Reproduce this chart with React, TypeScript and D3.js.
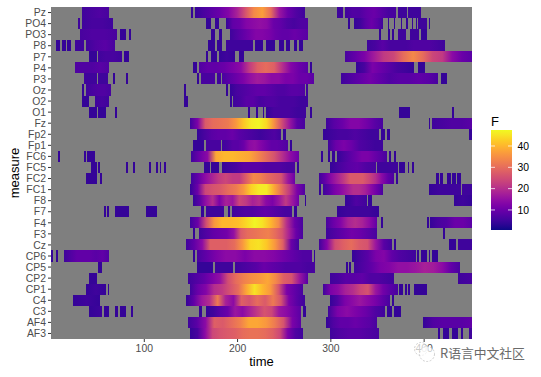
import React from "react";
import * as d3 from "d3";

const measures = ["Pz","PO4","PO3","P8","P7","P4","P3","Oz","O2","O1","Fz","Fp2","Fp1","FC6","FC5","FC2","FC1","F8","F7","F4","F3","Cz","CP6","CP5","CP2","CP1","C4","C3","AF4","AF3"];
const xTicks = [100, 200, 300, 400];
const legendTicks = [10, 20, 30, 40];

// each run: [first time, last time, F values read along the run]
type Run = [number, number, number[]];
const cells: Run[][] = [
  // Pz
  [[33,62,[5,6,7,6]],[150,152,[4]],[154,272,[4,6,8,10,13,18,26,34,37,30,16,10,7,5]],[307,313,[5]],[315,370,[5,7,7,9,10,8,6,6]],[372,382,[5]],[383,397,[5]]],
  // PO4
  [[29,31,[5]],[33,66,[5,6,6,5]],[166,171.5,[4]],[176,180,[4]],[187.6,275,[4,9,10,13,14,15,14,10,9,7,6,7,7]],[318,320.5,[4]],[325,356,[4,5,8,10,8,5]],[361,362,[4]],[368,369,[4]],[375,376.5,[4]],[381,382.5,[4]],[387,388,[4]],[391,392,[4]],[393,403,[5]],[405,406,[4]]],
  // PO3
  [[31,71,[6,7,7,6]],[74,80,[4]],[84,86,[4]],[171.5,176,[4]],[180,183,[4]],[192,275,[5,7,9,11,13,13,12,10,9,9,10,9,8]],[351.6,354,[4]],[361,363,[4]],[365.5,368,[4]],[372,380.5,[5]],[385,394.5,[5]],[397,403,[4]]],
  // P8
  [[5,10,[4]],[12,16,[4]],[17,21.5,[4]],[26,35,[5]],[37.5,68.6,[5,7,8,6]],[168,176,[4]],[178,183,[4]],[187.6,216.5,[5,5,5]],[219,227,[4]],[230.5,240,[4]],[244,250,[4]],[252,256,[4]],[260,264,[4]],[266,270,[4]],[339,422,[5,6,8,6,6,6,7,7,7,6,5]]],
  // P7
  [[41,49,[4]],[50,76,[5,6,6,5]],[78,84,[4]],[166,168,[4]],[172,178,[4]],[180,197,[4,5,4]],[201.5,207,[4]],[315,451,[6,9,12,17,22,24,30,34,30,24,22,14,10,8]]],
  // P4
  [[26,62,[7,7,7,8,7]],[152,156,[4]],[159,275,[7,9,9,10,12,14,22,28,30,28,20,13,10,8]],[278,280,[4]],[327,389,[4,6,12,10,8,6,5,4]],[393,401,[4]]],
  // P3
  [[35,49,[5]],[50,61,[5]],[66.5,68.6,[4]],[80,82.5,[4]],[156.5,159,[4]],[161,176,[6]],[178,182,[5]],[183,282,[6,8,10,12,15,17,16,14,14,12,12,10,10,8]],[311,415,[5,7,9,11,9,7,8,8,9,8,6]],[418,425,[4]]],
  // Oz
  [[33,35,[4]],[37.5,64,[5,6,7,7,6]],[142.5,145,[4]],[187.6,190,[4]],[192,272,[4,6,7,8,9,9,8,7,7,8,8,7]],[273,275,[5]]],
  // O2
  [[33,41,[4]],[47,62,[5,6,5]],[142.5,147,[4]],[192,194,[4]],[195,275,[5,6,8,8,6,7,7,6,6,6,5,5]]],
  // O1
  [[41,49,[4]],[50,59,[4]],[68.6,71,[4]],[211,213,[4]],[220,222,[4]],[227,228,[4]],[230.5,273,[4,6,6,6,5,5]],[278,280,[4]],[373,385,[4]],[430,432,[4]]],
  // Fz
  [[149,272,[5,12,27,30,31,32,36,42,46,47,44,35,25,16,8,6]],[295,356,[5,8,10,13,13,11,8,6]],[405,406,[4]],[408,451,[5,6,7,7,8]]],
  // Fp2
  [[157,247,[4,6,8,9,9,10,8,7,6,5,6,7,5]],[249,252,[4]],[291.6,351.6,[4,5,6,6,7,6,5,5]],[354,358,[4]],[360,363,[4]],[448,451,[4]]],
  // Fp1
  [[152,164,[4]],[166,182,[6,6]],[183,254,[5,6,8,8,10,14,15,13,11,9,9,8,7]],[256,258,[4]],[297,356,[5,10,12,10,7,6,5,5]]],
  // FC6
  [[7.5,10,[4]],[35,37.5,[4]],[38.6,47,[4]],[150,266,[5,10,14,38,40,40,39,38,34,30,26,20,14,10]],[289.4,291.6,[4]],[297,299,[4]],[301,304.4,[4]],[306.6,360,[4,6,8,10,12,12,10,8,6]],[362,364.5,[4]],[367.7,370,[4]]],
  // FC5
  [[43,49,[4]],[50,52.5,[4]],[80,82.5,[4]],[88,90,[4]],[105,107,[4]],[112.6,115,[4]],[117,118,[4]],[121,123,[4]],[164,170,[4]],[171.5,180,[4]],[183,261.6,[4,5,6,8,8,8,7,7,7,6,6]],[264,266,[4]],[299,348,[4,6,8,9,7,6]],[349.5,372,[5,5]],[373,379.5,[4]],[383,384,[4]],[387,389,[4]]],
  // FC2
  [[37.5,49,[4]],[52.5,54.7,[4]],[150,261.6,[5,9,14,18,22,24,22,22,28,34,33,30,28,26,16,10]],[287,368,[5,9,14,18,22,27,27,27,24,20,14,9,6]],[370,372,[4]],[413,416,[4]],[417,420,[4]],[424.5,429,[4]],[430,434,[4]],[435,439,[4]]],
  // FC1
  [[149,272,[4,10,24,26,27,30,32,36,43,46,46,38,30,22,12,7]],[287,289,[4]],[291.6,356,[5,8,12,14,17,20,20,18,14,10,6]],[405,439,[4,5,5,5]],[441,451,[5]]],
  // F8
  [[152,266,[4,8,15,20,12,18,16,24,22,18,20,14,12,16,22,16,10]],[272,273,[4]],[315,339,[4,5,7,6,5]],[340,344,[4]],[432,451,[4,5,4]]],
  // F7
  [[57,59,[4]],[60,62,[4]],[68.6,83.6,[4]],[102,113.6,[4]],[161,164,[4]],[166,185.5,[5,5]],[190,192,[4]],[194,258,[5,6,7,7,8,9,8,7,6,6]],[260.5,264,[4]],[306.6,351.6,[4,5,5,5,4]]],
  // F4
  [[149,270,[5,10,25,36,40,40,41,44,47,45,40,34,20,10,6]],[295,349.5,[6,10,13,18,20,18,14,9]],[354,356,[4]],[403,405,[4]],[406,451,[4,6,7,10,10,8]]],
  // F3
  [[152,154.4,[4]],[159,270,[5,7,9,10,11,15,27,30,31,32,33,30,26,18,10,6]],[295,349.5,[5,7,9,11,10,8,6]],[420,422,[4]]],
  // Cz
  [[144.7,266,[5,9,14,28,28,28,30,36,44,45,42,36,28,10,5]],[287,365.5,[5,13,25,28,30,27,26,16,8,5]],[367.7,370,[4]],[426.6,434,[4]],[436,451,[5,5]]],
  // CP6
  [[0,2,[4]],[5,7.5,[4]],[14,62,[5,7,9,9,9,8,9,7]],[152,154,[4]],[156.5,280,[6,9,12,14,14,12,14,14,13,11,9,7,7]],[282,283,[4]],[322.7,391,[4,6,8,12,13,9,7,6,5]],[392.5,394.5,[4]],[397,403,[4]],[405,406,[4]],[408.5,415,[4]]],
  // CP5
  [[50,54.7,[4]],[156.5,173.7,[4]],[176,195,[5,5]],[197,283,[5,6,7,8,10,9,8,7,7,7,6,6]],[316,318.4,[4]],[319.5,321.6,[4]],[325,438.5,[5,7,9,12,13,15,15,16,18,17,14,9,6]]],
  // CP2
  [[41,49,[4]],[147,275,[5,7,9,12,15,25,30,33,35,36,38,34,28,26,16,8]],[299,368,[5,6,8,8,9,7,7,6,5]],[436,451,[5,6]]],
  // CP1
  [[37.5,59,[4,5,4]],[61,62,[4]],[149,270,[5,10,13,20,22,26,30,38,45,40,36,26,12,9,6]],[291.6,372,[5,12,14,18,20,24,26,16,11,8,6]],[373,377.5,[4]],[379.5,381.6,[4]],[382.7,385,[4]],[389,403,[4]]],
  // C4
  [[23.6,52.5,[4,5,4]],[144.7,272,[4,9,16,20,32,18,14,28,26,30,27,32,26,12,8,5]],[299,363,[4,7,12,14,16,14,12,9,6]],[365.5,367.7,[4]]],
  // C3
  [[41,54.7,[4,5]],[57,62,[4]],[68.6,72,[4]],[74,80,[4]],[86,88,[4]],[159,162,[4]],[166,268,[4,5,8,10,16,14,18,22,26,24,16,14,11,8]],[270,273,[4]],[297,358,[5,12,14,12,10,7,5]],[360,365.5,[4]],[367.7,375,[4]]],
  // AF4
  [[147,268,[5,8,14,28,27,30,33,38,38,36,32,26,12,8]],[295,349.5,[4,7,9,9,10,9,8,6]],[399,451,[4,7,8,8,8,9]]],
  // AF3
  [[149,270,[4,6,14,24,26,27,28,30,31,31,30,28,24,12,7,5]],[299,351.6,[5,7,8,8,7,6]],[415,417.5,[4]],[420,422,[4]],[422,427,[4]],[430,436,[4]],[439.5,441.6,[4]],[448,451,[5]]],
];

const W = 541, H = 377;
const panel = { l: 51, r: 472, t: 7, b: 339 };
const FONT = "'Liberation Sans', Arial, sans-serif";

export default function App() {
  const x = d3.scaleLinear().domain([0, 451.3]).range([panel.l, panel.r]);
  const y = d3.scaleBand<string>().domain(measures).range([panel.t, panel.b]);
  const color = d3.scaleSequential(d3.interpolatePlasma).domain([0.6, 47.5]);
  const legendY = d3.scaleLinear().domain([0.6, 47.5]).range([230, 130]);
  const legendStops = d3.range(0, 21).map((i) => 0.6 + (46.9 * i) / 20);

  return (
    <svg width={W} height={H} viewBox={`0 0 ${W} ${H}`} style={{ position: "absolute", left: 0, top: 0, background: "#fff" }}>
      <defs>
        <linearGradient id="legend" x1="0" x2="0" y1="1" y2="0">
          {legendStops.map((v, i) => (
            <stop key={i} offset={i / 20} stopColor={color(v)} />
          ))}
        </linearGradient>
        {cells.flatMap((row, r) =>
          row.map((run, c) =>
            run[2].length > 1 ? (
              <linearGradient key={`${r}-${c}`} id={`g${r}-${c}`} x1="0" x2="1" y1="0" y2="0">
                {run[2].map((v, i) => (
                  <stop key={i} offset={i / (run[2].length - 1)} stopColor={color(v)} />
                ))}
              </linearGradient>
            ) : null
          )
        )}
      </defs>

      <rect x={panel.l} y={panel.t} width={panel.r - panel.l} height={panel.b - panel.t} fill="#7f7f7f" />
      {cells.flatMap((row, r) =>
        row.map((run, c) => (
          <rect
            key={`${r}-${c}`}
            x={x(run[0])}
            y={y(measures[r])}
            width={Math.max(1, x(run[1]) - x(run[0]))}
            height={y.bandwidth()}
            fill={run[2].length > 1 ? `url(#g${r}-${c})` : color(run[2][0])}
            shapeRendering="crispEdges"
          />
        ))
      )}

      {measures.map((m) => {
        const cy = (y(m) as number) + y.bandwidth() / 2;
        return (
          <g key={m}>
            <line x1={panel.l - 3} x2={panel.l} y1={cy} y2={cy} stroke="#333" strokeWidth={1} />
            <text x={panel.l - 5} y={cy} dy="0.36em" textAnchor="end" fontFamily={FONT} fontSize={10.4} fill="#4d4d4d">{m}</text>
          </g>
        );
      })}
      {xTicks.map((t) => (
        <g key={t}>
          <line x1={x(t)} x2={x(t)} y1={panel.b} y2={panel.b + 3} stroke="#333" strokeWidth={1} />
          <text x={x(t)} y={352} textAnchor="middle" fontFamily={FONT} fontSize={10.4} fill="#4d4d4d">{t}</text>
        </g>
      ))}
      <text x={261.5} y={366} textAnchor="middle" fontFamily={FONT} fontSize={13} fill="#000">time</text>
      <text transform="translate(19,173) rotate(-90)" textAnchor="middle" fontFamily={FONT} fontSize={13} fill="#000">measure</text>

      <text x={491} y={126} fontFamily={FONT} fontSize={13} fill="#000">F</text>
      <rect x={491} y={130} width={21} height={100} fill="url(#legend)" />
      {legendTicks.map((t) => (
        <g key={t}>
          <line x1={491} x2={495} y1={legendY(t)} y2={legendY(t)} stroke="#fff" strokeOpacity={0.75} />
          <line x1={508} x2={512} y1={legendY(t)} y2={legendY(t)} stroke="#fff" strokeOpacity={0.75} />
          <text x={529} y={legendY(t)} dy="0.36em" textAnchor="end" fontFamily={FONT} fontSize={10.4} fill="#000">{t}</text>
        </g>
      ))}

      <g fill="#fff" fillOpacity={0.7} stroke="#c4c4c4" strokeWidth={0.8} strokeDasharray="2 1.5">
        <circle cx={421} cy={349} r={6.5} />
        <circle cx={427} cy={354} r={7.5} />
      </g>
      <text x={440} y={358} fontFamily="'Noto Sans CJK SC', sans-serif" fontSize={12.8} fill="#6a6a6a">R语言中文社区</text>
    </svg>
  );
}
